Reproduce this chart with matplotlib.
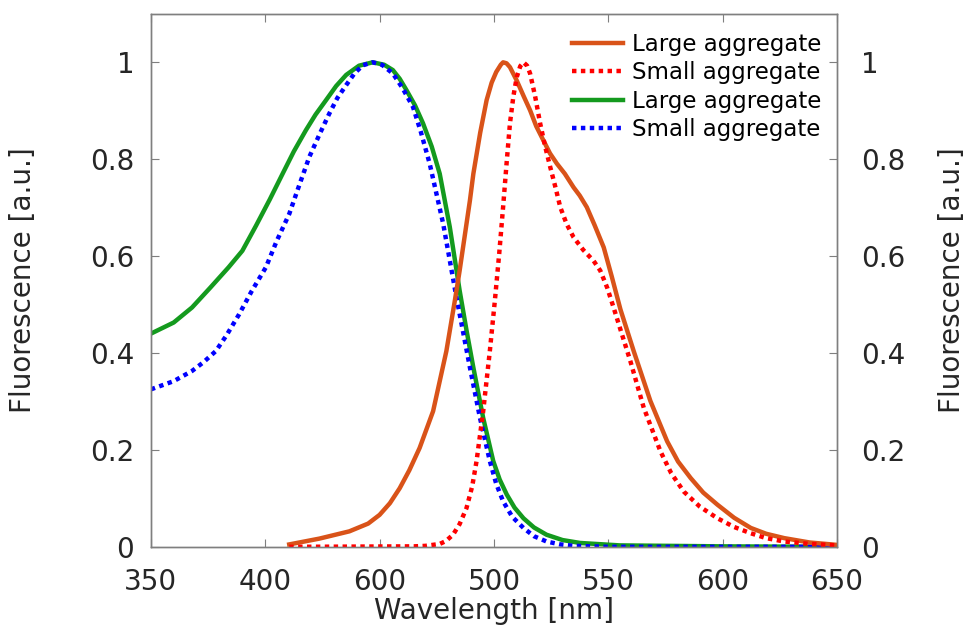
import numpy as np
import matplotlib
matplotlib.use('Agg')
import matplotlib.pyplot as plt

# left-axis curves (green / blue)
x_green = [350, 360, 368, 376, 384, 390, 396, 402, 407.6, 412.5, 417.8, 422, 426.6, 431,
           435.4, 441, 447, 452, 455.8, 458.8, 461.7, 465.5, 469, 472.8, 476.3, 480.7,
           485, 488, 491, 495.3, 499.7, 502.5, 505.6, 509, 512.9, 517.5, 523, 530,
           537.7, 555, 600, 650]
y_green = [0.44, 0.463, 0.494, 0.535, 0.577, 0.611, 0.663, 0.717, 0.77, 0.816, 0.86, 0.892,
           0.922, 0.951, 0.974, 0.993, 1.0, 0.995, 0.984, 0.966, 0.943, 0.911, 0.874,
           0.826, 0.77, 0.66, 0.529, 0.447, 0.37, 0.266, 0.177, 0.139, 0.108, 0.081,
           0.059, 0.04, 0.025, 0.014, 0.008, 0.003, 0.001, 0.0]

x_blue = [350, 360, 368, 373, 378.4, 383, 388.6, 394, 400.3, 405, 410.5, 415, 419.3, 424,
          428, 431.5, 435.4, 439, 442.7, 447, 451, 455.8, 460, 464.6, 468, 471.9, 477.8,
          483.6, 489.5, 493.9, 498.2, 501, 504, 508, 512.9, 517.5, 523, 529, 535,
          550, 650]
y_blue = [0.325, 0.342, 0.363, 0.381, 0.404, 0.436, 0.48, 0.527, 0.577, 0.631, 0.687, 0.748,
          0.805, 0.854, 0.894, 0.926, 0.953, 0.977, 0.994, 1.0, 0.995, 0.977, 0.947,
          0.908, 0.857, 0.791, 0.667, 0.515, 0.37, 0.266, 0.177, 0.13, 0.094, 0.062,
          0.039, 0.022, 0.011, 0.005, 0.002, 0.0, 0.0]

# right-axis curves (orange / red)
x_orange = [410.5, 423.7, 436.8, 445, 450, 454.5, 458.8, 463, 467.5, 473.4, 479.2, 482.9,
            485, 489.5, 491, 494, 496.8, 499, 501, 503, 504, 505.5, 507, 510, 513, 515.8,
            518.5, 521.6, 524.5, 527.5, 531, 534.8, 537.5, 540.6, 544, 548, 551.5, 555.3,
            561.1, 568.4, 575.7, 580.5, 586, 591.5, 597.7, 605, 612.3, 619, 626.9,
            638, 650]
y_orange = [0.005, 0.017, 0.032, 0.048, 0.066, 0.09, 0.121, 0.158, 0.204, 0.28, 0.404,
            0.508, 0.57, 0.715, 0.77, 0.855, 0.922, 0.958, 0.98, 0.995, 1.0, 0.998, 0.99,
            0.962, 0.93, 0.901, 0.868, 0.839, 0.812, 0.791, 0.77, 0.742, 0.725, 0.701,
            0.664, 0.618, 0.558, 0.49, 0.404, 0.301, 0.218, 0.176, 0.142, 0.112, 0.087,
            0.06, 0.039, 0.027, 0.018, 0.009, 0.004]

x_red = [410.5, 465, 470, 476.3, 479, 482.1, 485, 488, 490.5, 492.4, 495.3, 498.2, 500.4,
         502.3, 504, 505.5, 507, 508.5, 510, 511.5, 512.9, 514.5, 515.8, 518, 520.2,
         522.4, 524.6, 527, 529, 531.8, 534.8, 539, 543.6, 546.5, 549.5, 552.3, 556,
         559.6, 565.5, 572.8, 577.5, 583, 590, 597.7, 605, 612.3, 619, 626.9, 638, 650]
y_red = [0.0, 0.001, 0.002, 0.006, 0.012, 0.025, 0.047, 0.08, 0.125, 0.177, 0.28, 0.404,
         0.508, 0.605, 0.701, 0.79, 0.874, 0.93, 0.97, 0.992, 1.0, 0.993, 0.977, 0.93,
         0.874, 0.826, 0.784, 0.74, 0.701, 0.666, 0.639, 0.613, 0.59, 0.57, 0.535, 0.494,
         0.438, 0.384, 0.287, 0.197, 0.152, 0.114, 0.083, 0.059, 0.041, 0.028, 0.018,
         0.011, 0.006, 0.003]

xticks = [350, 400, 450, 500, 550, 600, 650]
xtick_labels = ['350', '400', '600', '500', '550', '600', '650']
yticks = [0, 0.2, 0.4, 0.6, 0.8, 1]
ytick_labels = ['0', '0.2', '0.4', '0.6', '0.8', '1']
labels = ['Large aggregate', 'Small aggregate', 'Large aggregate', 'Small aggregate']

plt.rcParams['font.family'] = ['DejaVu Sans']
txt = '#262626'
fig = plt.figure(figsize=(9.67, 6.3), dpi=100)
ax = fig.add_axes([0.156, 0.132, 0.7096, 0.846])
ax2 = ax.twinx()

lg, = ax.plot(x_green, y_green, color='#149a1e', lw=3.2, solid_joinstyle='round')
lb, = ax.plot(x_blue, y_blue, color='#0000ff', lw=3.2, linestyle=(0, (1, 1)))
lo, = ax2.plot(x_orange, y_orange, color='#d95319', lw=3.2, solid_joinstyle='round')
lr, = ax2.plot(x_red, y_red, color='#ff0000', lw=3.2, linestyle=(0, (1, 1)))

for a in (ax, ax2):
    a.set_xlim(350, 650)
    a.set_ylim(0, 1.1)
    for s in a.spines.values():
        s.set_color('#7f7f7f')
        s.set_linewidth(1.0)

ax.set_xticks(xticks)
ax.set_xticklabels(xtick_labels)
ax.set_yticks(yticks)
ax.set_yticklabels(ytick_labels)
ax2.set_yticks(yticks)
ax2.set_yticklabels(ytick_labels)

ax.tick_params(axis='x', direction='in', length=6, color='#7f7f7f', top=True,
               labelsize=20, labelcolor=txt, pad=15)
ax.tick_params(axis='y', direction='in', length=6, color='#7f7f7f',
               labelsize=20, labelcolor=txt, pad=12)
ax2.tick_params(axis='y', direction='in', length=6, color='#7f7f7f',
                labelsize=20, labelcolor=txt, pad=17)

ax.set_xlabel('Wavelength [nm]', fontsize=20, color=txt, labelpad=1)
ax.set_ylabel('Fluorescence [a.u.]', fontsize=20, color=txt, labelpad=38)
ax2.set_ylabel('Fluorescence [a.u.]', fontsize=20, color=txt, labelpad=24)

ax2.legend([lo, lr, lg, lb], labels, loc='upper right', bbox_to_anchor=(0.997, 0.99),
           frameon=False, fontsize=16.5, handlelength=2.2, handletextpad=0.4,
           labelspacing=0.24, borderaxespad=0.2)

fig.savefig('out.png', dpi=100)
